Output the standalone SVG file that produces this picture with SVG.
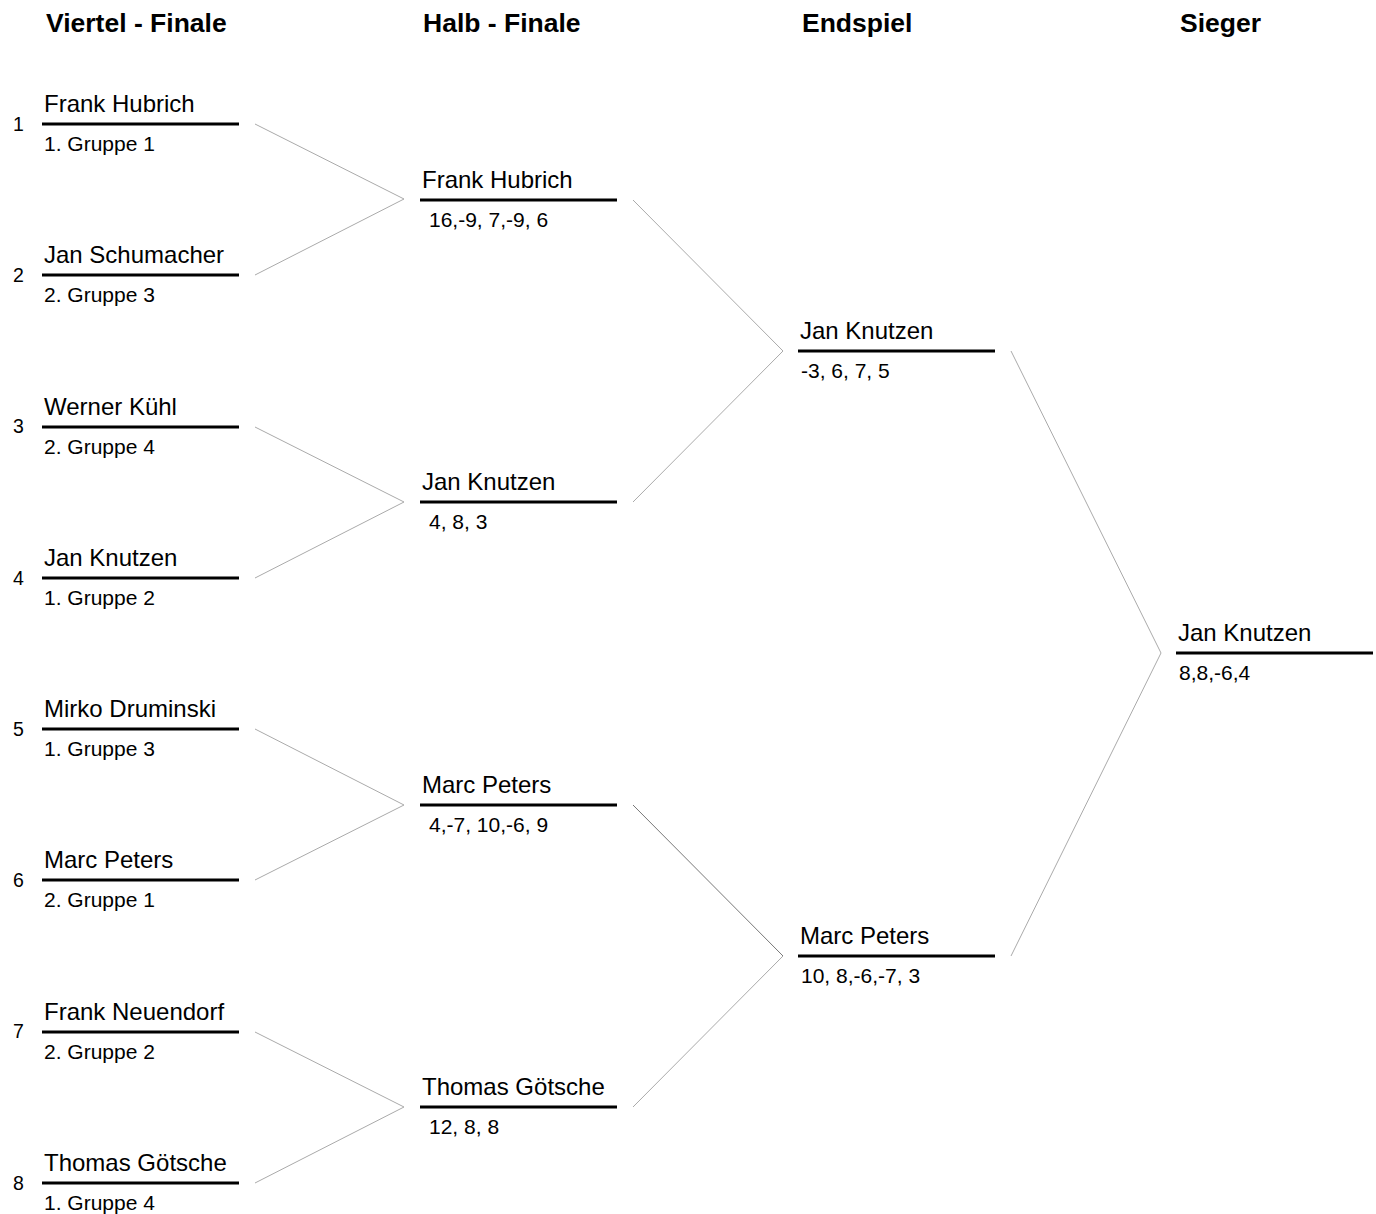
<svg xmlns="http://www.w3.org/2000/svg" width="1376" height="1214" viewBox="0 0 1376 1214">
<style>
text{font-family:"Liberation Sans",Arial,sans-serif;fill:#000}
.h{font-size:26.5px;font-weight:bold}
.n{font-size:24px}
.s{font-size:21px}
.k{font-size:19.5px}
.bar{stroke:#000;stroke-width:3}
.c{fill:none;stroke:#aaa;stroke-width:1}
.cd{fill:none;stroke:#777;stroke-width:1}
</style>
<rect width="1376" height="1214" fill="#fff"/>
<g id="headers">
<text class="h" x="46" y="32">Viertel - Finale</text>
<text class="h" x="423" y="32">Halb - Finale</text>
<text class="h" x="802" y="32">Endspiel</text>
<text class="h" x="1180" y="32">Sieger</text>
</g>
<g id="connectors">
<polyline class="c" points="255,124 404,199 255,275"/>
<polyline class="c" points="255,427 404,502 255,578"/>
<polyline class="c" points="255,729 404,805 255,880"/>
<polyline class="c" points="255,1032 404,1107 255,1183"/>
<polyline class="c" points="633,200 783,351 633,502"/>
<polyline class="cd" points="633,805 783,956"/>
<polyline class="c" points="783,956 633,1107"/>
<polyline class="c" points="1011,351 1161,653 1011,956"/>
</g>
<g id="qf1"><text class="k" x="13" y="131">1</text><text class="n" x="44" y="112">Frank Hubrich</text><line class="bar" x1="42" y1="124" x2="239" y2="124"/><text class="s" x="44" y="151">1. Gruppe 1</text></g>
<g id="qf2"><text class="k" x="13" y="282">2</text><text class="n" x="44" y="263">Jan Schumacher</text><line class="bar" x1="42" y1="275" x2="239" y2="275"/><text class="s" x="44" y="302">2. Gruppe 3</text></g>
<g id="qf3"><text class="k" x="13" y="433">3</text><text class="n" x="44" y="415">Werner Kühl</text><line class="bar" x1="42" y1="427" x2="239" y2="427"/><text class="s" x="44" y="454">2. Gruppe 4</text></g>
<g id="qf4"><text class="k" x="13" y="585">4</text><text class="n" x="44" y="566">Jan Knutzen</text><line class="bar" x1="42" y1="578" x2="239" y2="578"/><text class="s" x="44" y="605">1. Gruppe 2</text></g>
<g id="qf5"><text class="k" x="13" y="736">5</text><text class="n" x="44" y="717">Mirko Druminski</text><line class="bar" x1="42" y1="729" x2="239" y2="729"/><text class="s" x="44" y="756">1. Gruppe 3</text></g>
<g id="qf6"><text class="k" x="13" y="887">6</text><text class="n" x="44" y="868">Marc Peters</text><line class="bar" x1="42" y1="880" x2="239" y2="880"/><text class="s" x="44" y="907">2. Gruppe 1</text></g>
<g id="qf7"><text class="k" x="13" y="1038">7</text><text class="n" x="44" y="1020">Frank Neuendorf</text><line class="bar" x1="42" y1="1032" x2="239" y2="1032"/><text class="s" x="44" y="1059">2. Gruppe 2</text></g>
<g id="qf8"><text class="k" x="13" y="1190">8</text><text class="n" x="44" y="1171">Thomas Götsche</text><line class="bar" x1="42" y1="1183" x2="239" y2="1183"/><text class="s" x="44" y="1210">1. Gruppe 4</text></g>
<g id="sf1"><text class="n" x="422" y="188">Frank Hubrich</text><line class="bar" x1="420" y1="200" x2="617" y2="200"/><text class="s" x="429" y="227">16,-9, 7,-9, 6</text></g>
<g id="sf2"><text class="n" x="422" y="490">Jan Knutzen</text><line class="bar" x1="420" y1="502" x2="617" y2="502"/><text class="s" x="429" y="529">4, 8, 3</text></g>
<g id="sf3"><text class="n" x="422" y="793">Marc Peters</text><line class="bar" x1="420" y1="805" x2="617" y2="805"/><text class="s" x="429" y="832">4,-7, 10,-6, 9</text></g>
<g id="sf4"><text class="n" x="422" y="1095">Thomas Götsche</text><line class="bar" x1="420" y1="1107" x2="617" y2="1107"/><text class="s" x="429" y="1134">12, 8, 8</text></g>
<g id="f1"><text class="n" x="800" y="339">Jan Knutzen</text><line class="bar" x1="798" y1="351" x2="995" y2="351"/><text class="s" x="801" y="378">-3, 6, 7, 5</text></g>
<g id="f2"><text class="n" x="800" y="944">Marc Peters</text><line class="bar" x1="798" y1="956" x2="995" y2="956"/><text class="s" x="801" y="983">10, 8,-6,-7, 3</text></g>
<g id="winner"><text class="n" x="1178" y="641">Jan Knutzen</text><line class="bar" x1="1176" y1="653" x2="1373" y2="653"/><text class="s" x="1179" y="680">8,8,-6,4</text></g>
</svg>
